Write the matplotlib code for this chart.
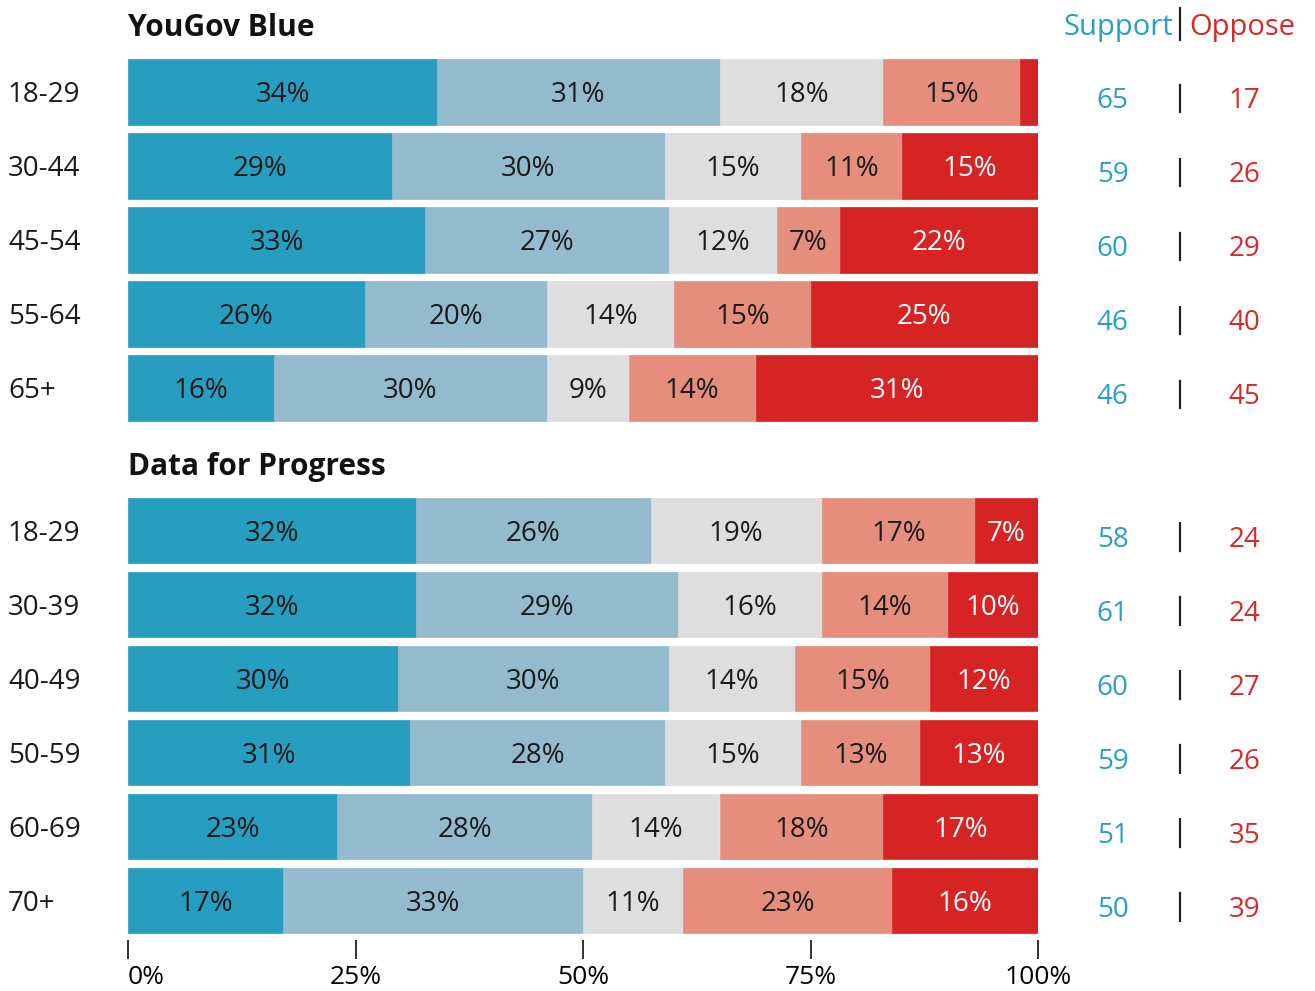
import numpy as np
import matplotlib.pyplot as plt

plt.rcParams['font.family'] = ['Open Sans', 'DejaVu Sans']

# YouGov Blue
yg_groups = ["18-29", "30-44", "45-54", "55-64", "65+"]
yg_strong_support = [34, 29, 33, 26, 16]
yg_some_support = [31, 30, 27, 20, 30]
yg_neutral = [18, 15, 12, 14, 9]
yg_some_oppose = [15, 11, 7, 15, 14]
yg_strong_oppose = [2, 15, 22, 25, 31]
yg_support = [65, 59, 60, 46, 46]
yg_oppose = [17, 26, 29, 40, 45]

# Data for Progress
dfp_groups = ["18-29", "30-39", "40-49", "50-59", "60-69", "70+"]
dfp_strong_support = [32, 32, 30, 31, 23, 17]
dfp_some_support = [26, 29, 30, 28, 28, 33]
dfp_neutral = [19, 16, 14, 15, 14, 11]
dfp_some_oppose = [17, 14, 15, 13, 18, 23]
dfp_strong_oppose = [7, 10, 12, 13, 17, 16]
dfp_support = [58, 61, 60, 59, 51, 50]
dfp_oppose = [24, 24, 27, 26, 35, 39]

colors = ["#279dc0", "#93bbcd", "#dedede", "#e58e7e", "#d62425"]
text_colors = ["#1a1a1a", "#1a1a1a", "#1a1a1a", "#1a1a1a", "white"]
sup_color = "#2a9fc4"
opp_color = "#d62a2a"
W = "normal"

fig = plt.figure(figsize=(13.15, 9.91), dpi=100)
ax = fig.add_axes([128 / 1315, 51 / 991, 910 / 1315, 940 / 991])

gap = 1.93  # distance between last row of group 1 and first row of group 2
sections = [
    ("YouGov Blue", yg_groups,
     [yg_strong_support, yg_some_support, yg_neutral, yg_some_oppose, yg_strong_oppose],
     yg_support, yg_oppose, 0.0),
    ("Data for Progress", dfp_groups,
     [dfp_strong_support, dfp_some_support, dfp_neutral, dfp_some_oppose, dfp_strong_oppose],
     dfp_support, dfp_oppose, len(yg_groups) - 1 + gap),
]

x_sup, x_div, x_opp = 108.2, 115.6, 122.7
for title, groups, series, sup, opp, start in sections:
    vals = np.array(series, dtype=float).T
    ys = start + np.arange(len(groups))
    shares = vals / vals.sum(axis=1, keepdims=True) * 100
    left = np.zeros(len(groups))
    for k in range(vals.shape[1]):
        ax.barh(ys, shares[:, k], left=left, height=0.88, color=colors[k],
                edgecolor=colors[k], linewidth=0.5)
        for i, y in enumerate(ys):
            if vals[i, k] >= 3:
                ax.text(left[i] + shares[i, k] / 2, y + 0.04, f"{int(vals[i, k])}%",
                        ha="center", va="center", fontsize=20, fontweight=W,
                        color=text_colors[k])
        left += shares[:, k]
    ax.text(0, start - 0.86, title, ha="left", va="center", fontsize=21.5,
            fontweight="bold", color="#111111")
    for i, y in enumerate(ys):
        ax.text(-13.2, y + 0.04, groups[i], ha="left", va="center", fontsize=20,
                fontweight=W, color="#1a1a1a", clip_on=False)
        ax.text(x_sup, y + 0.12, str(sup[i]), ha="center", va="center", fontsize=20,
                fontweight=W, color=sup_color, clip_on=False)
        ax.text(x_opp, y + 0.12, str(opp[i]), ha="center", va="center", fontsize=20,
                fontweight=W, color=opp_color, clip_on=False)
        ax.plot([x_div, x_div], [y - 0.1, y + 0.27], color="#222222", lw=1.6,
                clip_on=False)

# header
ax.text(x_div - 0.8, -0.87, "Support", ha="right", va="center", fontsize=21,
        fontweight=W, color=sup_color, clip_on=False)
ax.text(x_div + 1.0, -0.87, "Oppose", ha="left", va="center", fontsize=21,
        fontweight=W, color=opp_color, clip_on=False)
ax.plot([x_div, x_div], [-1.13, -0.70], color="#222222", lw=1.6, clip_on=False)

ax.set_xlim(0, 100)
ax.set_ylim((940 - 92) / 74, -92 / 74)
ax.set_xticks([0, 25, 50, 75, 100])
ax.set_xticklabels(["0%", "25%", "50%", "75%", "100%"], fontsize=19, fontweight=W)
ax.get_xticklabels()[0].set_ha("left")
ax.set_yticks([])
ax.tick_params(axis="x", length=14, width=1.4, color="#333333", pad=4)
for s in ax.spines.values():
    s.set_visible(False)

fig.savefig("out.png", dpi=100)
